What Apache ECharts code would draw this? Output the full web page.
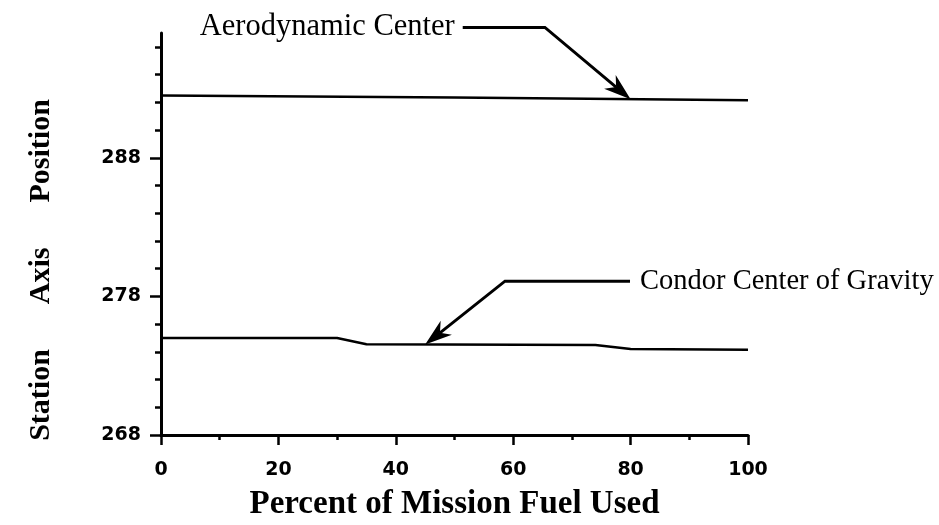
<!doctype html>
<html>
<head>
<meta charset="utf-8">
<script src="https://cdn.jsdelivr.net/npm/echarts@6/dist/echarts.min.js"></script>
<style>
    html, body { margin: 0; background: #fff; }
    #chart { width: 939px; height: 525px; }
</style>
</head>
<body>
<div id="chart"></div>
<script>
    // percent of mission fuel used vs station axis position
    let aeroX = [0, 50, 100];
    let aeroY = [292.5, 292.35, 292.15];
    let cgX = [0, 30, 35, 74, 80, 100];
    let cgY = [275.0, 275.0, 274.55, 274.5, 274.2, 274.15];

    let xTicks = [0, 20, 40, 60, 80, 100];
    let yMajor = [268, 278, 288];
    let yMinor = [270, 272, 274, 276, 280, 282, 284, 286, 290, 292, 294, 296];

    // callouts, in data units: [line start, elbow, arrow tip]
    let aeroNote = 'Aerodynamic Center';
    let aeroPath = [[51.4, 297.4], [65.4, 297.4], [80, 292.22]];
    let cgNote = 'Condor Center of Gravity';
    let cgPath = [[79.9, 279.1], [58.6, 279.1], [45, 274.52]];

    let sp = '\u00a0\u00a0\u00a0\u00a0\u00a0\u00a0';
    let yName = 'Station' + sp + 'Axis' + sp + 'Position';

    function pairs(xs, ys) {
        let out = [];
        for (let i = 0; i < xs.length; i++) {
            out.push([xs[i], ys[i]]);
        }
        return out;
    }

    let chart = echarts.init(document.getElementById('chart'));
    let serif = '"Liberation Serif", "Times New Roman", serif';
    let sans = '"DejaVu Sans", Arial, sans-serif';

    chart.setOption({
        animation: false,
        backgroundColor: '#fff',
        grid: {left: 161, right: 191, top: 33, bottom: 90, outerBoundsMode: 'none'},
        xAxis: {
            type: 'value', min: 0, max: 100, interval: 20,
            name: 'Percent of Mission Fuel Used',
            nameLocation: 'middle', nameGap: 53,
            nameTextStyle: {fontFamily: serif, fontWeight: 'bold', fontSize: 33, color: '#000'},
            axisLine: {lineStyle: {color: '#000', width: 3}},
            axisTick: {length: 10, lineStyle: {color: '#000', width: 2.5}},
            minorTick: {show: true, splitNumber: 2, length: 5, lineStyle: {color: '#000', width: 2.5}},
            axisLabel: {
                margin: 26, fontFamily: sans, fontWeight: 'bold', fontSize: 19, color: '#000',
                customValues: xTicks
            },
            splitLine: {show: false}
        },
        yAxis: [{
            type: 'value', min: 268, max: 297,
            axisLine: {show: true, lineStyle: {color: '#000', width: 3}},
            axisTick: {show: true, length: 11, customValues: yMajor, lineStyle: {color: '#000', width: 2.5}},
            axisLabel: {
                margin: 20, fontFamily: sans, fontWeight: 'bold', fontSize: 19, color: '#000',
                customValues: yMajor
            },
            splitLine: {show: false}
        }, {
            type: 'value', min: 268, max: 297, position: 'left',
            axisLine: {show: false},
            axisTick: {show: true, length: 6, customValues: yMinor, lineStyle: {color: '#000', width: 2.5}},
            axisLabel: {show: false},
            splitLine: {show: false}
        }],
        series: [{
            name: aeroNote, type: 'line', data: pairs(aeroX, aeroY),
            showSymbol: false, lineStyle: {color: '#000', width: 2.5}
        }, {
            name: cgNote, type: 'line', data: pairs(cgX, cgY),
            showSymbol: false, lineStyle: {color: '#000', width: 2.5}
        }]
    });

    function px(p) {
        return chart.convertToPixel({xAxisIndex: 0, yAxisIndex: 0}, p);
    }

    function callout(path) {
        let pts = path.map(px);
        let tip = pts[pts.length - 1], prev = pts[pts.length - 2];
        let dx = tip[0] - prev[0], dy = tip[1] - prev[1];
        let len = Math.sqrt(dx * dx + dy * dy);
        let ux = dx / len, uy = dy / len;
        let L = 27, W = 9;
        let bx = tip[0] - ux * L, by = tip[1] - uy * L;
        let notch = [tip[0] - ux * L * 0.7, tip[1] - uy * L * 0.7];
        let line = pts.slice(0, pts.length - 1).concat([notch]);
        return [{
            type: 'polyline', shape: {points: line},
            style: {stroke: '#000', lineWidth: 3, fill: null}
        }, {
            type: 'polygon',
            shape: {points: [tip, [bx - uy * W, by + ux * W], notch, [bx + uy * W, by - ux * W]]},
            style: {fill: '#000'}
        }];
    }

    let a0 = px(aeroPath[0]);
    let c0 = px(cgPath[0]);
    chart.setOption({
        graphic: callout(aeroPath).concat(callout(cgPath)).concat([{
            type: 'text',
            style: {
                text: aeroNote, x: a0[0] - 8, y: a0[1], align: 'right', verticalAlign: 'middle',
                fontFamily: serif, fontSize: 30.5, fill: '#000'
            }
        }, {
            type: 'text',
            style: {
                text: cgNote, x: c0[0] + 10, y: c0[1], align: 'left', verticalAlign: 'middle',
                fontFamily: serif, fontSize: 28.5, fill: '#000'
            }
        }, {
            type: 'text', x: 41, y: 270, rotation: Math.PI / 2,
            style: {
                text: yName, align: 'center', verticalAlign: 'middle',
                fontFamily: serif, fontWeight: 'bold', fontSize: 30, fill: '#000'
            }
        }])
    });
</script>
</body>
</html>
